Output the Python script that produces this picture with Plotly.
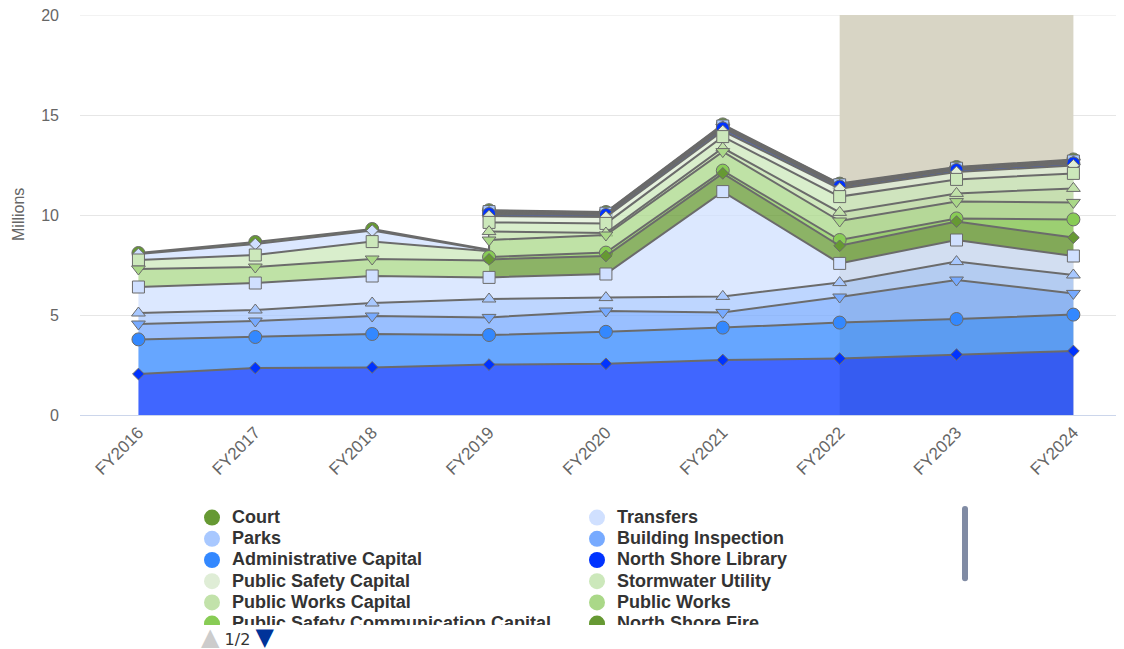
import plotly.graph_objects as go

# ---------------- data (millions) ----------------
years = ["FY2016", "FY2017", "FY2018", "FY2019", "FY2020", "FY2021", "FY2022", "FY2023", "FY2024"]

# legend order (index 0 is drawn on top of the stack)
court = [0.05, 0.10, 0.08, 0.03, 0.03, 0.04, 0.03, 0.03, 0.04]
transfers = [0.30, 0.55, 0.55, 0.04, 0.03, 0.04, 0.03, 0.03, 0.04]
parks = [None, None, None, 0.04, 0.03, 0.04, 0.03, 0.03, 0.04]
building_inspection = [None, None, None, 0.04, 0.03, 0.04, 0.03, 0.03, 0.04]
administrative_capital = [None, None, None, 0.04, 0.03, 0.04, 0.03, 0.03, 0.04]
north_shore_library = [None, None, None, 0.10, 0.10, 0.13, 0.10, 0.10, 0.10]
public_safety_capital = [None, None, None, 0.32, 0.32, 0.28, 0.40, 0.37, 0.40]
stormwater_utility = [0.45, 0.60, 0.87, 0.46, 0.48, 0.57, 0.79, 0.70, 0.75]
public_works_capital = [None, None, None, 0.42, 0.10, 0.18, 0.43, 0.41, 0.70]
public_works = [0.90, 0.80, 0.85, 0.85, 0.88, 0.95, 0.95, 0.84, 0.85]
public_safety_comm_capital = [None, None, None, 0.12, 0.17, 0.14, 0.29, 0.16, 0.91]
north_shore_fire = [None, None, None, 0.90, 0.90, 0.91, 0.88, 0.92, 0.92]
debt_service = [1.30, 1.35, 1.35, 1.08, 1.18, 5.24, 0.96, 1.08, 0.95]
sanitation = [0.55, 0.55, 0.65, 0.92, 0.67, 0.80, 0.72, 0.92, 0.92]
municipal_services = [0.77, 0.80, 0.90, 0.88, 1.04, 0.76, 1.28, 1.95, 1.06]
general_government = [1.73, 1.55, 1.67, 1.48, 1.60, 1.62, 1.80, 1.78, 1.82]
police = [2.05, 2.35, 2.38, 2.52, 2.56, 2.75, 2.82, 3.02, 3.20]

series_names = ["Court", "Transfers", "Parks", "Building Inspection", "Administrative Capital",
                "North Shore Library", "Public Safety Capital", "Stormwater Utility",
                "Public Works Capital", "Public Works", "Public Safety Communication Capital",
                "North Shore Fire", "Debt Service", "Sanitation", "Municipal Services",
                "General Government", "Police"]
series_values = [court, transfers, parks, building_inspection, administrative_capital,
                 north_shore_library, public_safety_capital, stormwater_utility,
                 public_works_capital, public_works, public_safety_comm_capital,
                 north_shore_fire, debt_service, sanitation, municipal_services,
                 general_government, police]

palette = ["#669933", "#d0e0ff", "#a8c8ff", "#77aaff", "#3388ff", "#0033ff",
           "#dfedd6", "#cce8bb", "#c2e2aa", "#aad888", "#88cc55"]
symbols = ["circle", "diamond", "square", "triangle-up", "triangle-down"]
marker_sizes = {"circle": 13, "diamond": 9, "square": 12, "triangle-up": 12, "triangle-down": 12}

LINE_COLOR = "#6b6b6b"
FILL_OPACITY = 0.75
Y_TICKS = [0, 5, 10, 15, 20]


def rgba(hex_color, a):
    h = hex_color.lstrip("#")
    r, g, b = int(h[0:2], 16), int(h[2:4], 16), int(h[4:6], 16)
    return f"rgba({r},{g},{b},{a})"


S = len(series_values)
n = len(years)


def val(k, i):
    return series_values[k][i]


# stacking: highest index at the bottom (reversed stacks)
bottom = [[0.0] * n for _ in range(S)]
top = [[0.0] * n for _ in range(S)]
for i in range(n):
    acc = 0.0
    for k in range(S - 1, -1, -1):
        bottom[k][i] = acc
        v = val(k, i)
        if v is not None:
            acc += v
        top[k][i] = acc


def cliff_point(k, i, j):
    """Cliff handling for stacked areas with missing points."""
    if j < 0 or j >= n:
        return None
    null_side = val(k, j) is None
    c = -sum(val(m, i) for m in range(k + 1, S)
             if val(m, j) is None and val(m, i) is not None)
    if null_side or c:
        t = (bottom[k][i] if null_side else top[k][i]) + c
        b = bottom[k][i] + c
        return (i, t, b, null_side)
    return None


fig = go.Figure()

# top gridline (at the edge of the range)
fig.add_shape(type="line", xref="paper", yref="y", x0=0, x1=1, y0=Y_TICKS[-1], y1=Y_TICKS[-1],
              line=dict(color="#e6e6e6", width=1), layer="below")

# plot band FY2022 - FY2024
fig.add_shape(type="rect", xref="x", yref="y", x0=6, x1=8, y0=0, y1=Y_TICKS[-1],
              fillcolor="#d8d5c5", line_width=0, layer="between")

for k in range(S):
    color = palette[k % len(palette)]
    sym = symbols[k % len(symbols)]
    segments, cur = [], None
    for i in range(n):
        if val(k, i) is None:
            if cur:
                segments.append(cur)
            cur = None
            continue
        if cur is None:
            cur = []
        lp = cliff_point(k, i, i - 1)
        if lp:
            cur.append(lp)
        cur.append((i, top[k][i], bottom[k][i], False))
        rp = cliff_point(k, i, i + 1)
        if rp:
            cur.append(rp)
    if cur:
        segments.append(cur)

    fx, fy, lx, ly = [], [], [], []
    for seg in segments:
        fx += [years[p[0]] for p in seg] + [years[p[0]] for p in reversed(seg)]
        fy += [p[1] for p in seg] + [p[2] for p in reversed(seg)]
        fx.append(None)
        fy.append(None)
        for p in seg:
            if p[3]:
                continue
            lx.append(years[p[0]])
            ly.append(p[1])
        lx.append(None)
        ly.append(None)

    fig.add_trace(go.Scatter(x=fx, y=fy, mode="lines", fill="toself",
                             fillcolor=rgba(color, FILL_OPACITY), line=dict(width=0),
                             showlegend=False, hoverinfo="skip"))
    fig.add_trace(go.Scatter(x=lx, y=ly, mode="lines", line=dict(color=LINE_COLOR, width=2),
                             showlegend=False, hoverinfo="skip", connectgaps=False))
    mx = [years[i] for i in range(n) if val(k, i) is not None]
    my = [top[k][i] for i in range(n) if val(k, i) is not None]
    fig.add_trace(go.Scatter(x=mx, y=my, mode="markers", name=series_names[k],
                             marker=dict(symbol=sym, size=marker_sizes[sym], color=color,
                                         line=dict(color=LINE_COLOR, width=1)),
                             showlegend=False))

# legend entries (circle symbols like the original)
for k in range(S):
    fig.add_trace(go.Scatter(x=[None], y=[None], mode="markers",
                             name=f'<span style="font-size:18px">{series_names[k]}</span>',
                             marker=dict(symbol="circle", size=16, color=palette[k % len(palette)]),
                             legendrank=k + 1, showlegend=True))

fig.add_annotation(text="Millions", xref="paper", yref="y", x=(18 - 80) / 1044, y=10,
                   textangle=-90, showarrow=False, xanchor="center", yanchor="middle",
                   font=dict(family="Liberation Sans", size=16, color="#666666"))
fig.add_annotation(text='<span style="color:#cccccc;font-size:24px">▲</span> 1/2 '
                        '<span style="color:#003399;font-size:24px">▼</span>',
                   xref="paper", yref="paper", x=(199 - 80) / 1044, y=(415 - 637) / 400,
                   xanchor="left", yanchor="middle", showarrow=False,
                   font=dict(family="DejaVu Sans", size=16, color="#333333"))

# body has an 8px margin in the written page: shift everything accordingly
fig.update_layout(
    width=1116, height=641,
    margin=dict(l=72, r=0, t=7, b=234, autoexpand=False),
    paper_bgcolor="white", plot_bgcolor="white",
    font=dict(family="Liberation Sans"),
    showlegend=True,
    legend=dict(orientation="h", x=(192 - 80) / 1044, xanchor="left",
                y=(415 - 502) / 400, yanchor="top", entrywidth=340,
                font=dict(family="Liberation Sans", size=14, color="#333333", weight="bold"),
                bgcolor="rgba(0,0,0,0)", maxheight=123, tracegroupgap=0,
                itemclick=False, itemdoubleclick=False),
    xaxis=dict(type="category", categoryorder="array", categoryarray=years,
               range=[-0.5, 8.433], tickangle=-45, showgrid=False, showline=True,
               linecolor="#ccd6eb", linewidth=1, ticks="", zeroline=False, automargin=False,
               tickfont=dict(family="Liberation Sans", size=17, color="#666666")),
    yaxis=dict(range=[0, 20], tickvals=Y_TICKS, showgrid=True, gridcolor="#e6e6e6",
               gridwidth=1, zeroline=False, showline=False, automargin=False,
               ticklabelstandoff=20, ticklabeloverflow="allow",
               tickfont=dict(family="Liberation Sans", size=16, color="#666666")),
)

fig.write_html("out.html")
